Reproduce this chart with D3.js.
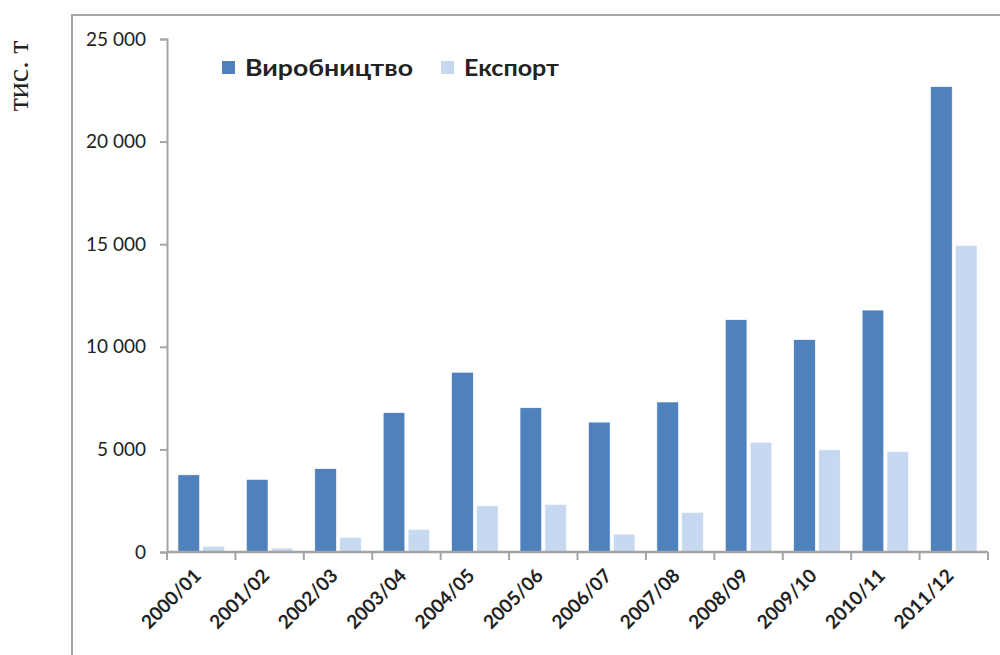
<!DOCTYPE html>
<html>
<head>
<meta charset="utf-8">
<script src="https://cdn.jsdelivr.net/npm/d3@7"></script>
<style>
  body { margin: 0; background: #fff; }
  svg { display: block; }
</style>
</head>
<body>
<div id="chart"></div>
<script>
// data (thousand tonnes)
const years = ['2000/01','2001/02','2002/03','2003/04','2004/05','2005/06',
               '2006/07','2007/08','2008/09','2009/10','2010/11','2011/12'];
const production = [3760, 3540, 4060, 6790, 8760, 7030, 6330, 7310, 11320, 10350, 11790, 22680];
const exportVals = [280, 190, 710, 1100, 2250, 2320, 870, 1930, 5350, 4980, 4900, 14940];
const seriesNames = ['Виробництво', 'Експорт'];
const seriesColors = ['#4f81bd', '#c6d9f1'];
const yTicks = [0, 5000, 10000, 15000, 20000, 25000];

const width = 1000, height = 655;
const margin = {left: 167, right: 12, top: 39, bottom: 103};

const svg = d3.select('#chart').append('svg')
  .attr('width', width)
  .attr('height', height);

// outer frame (left and top only are visible)
svg.append('path')
  .attr('d', 'M72,655 V15 H1000')
  .attr('fill', 'none')
  .attr('stroke', '#a5a5a5')
  .attr('stroke-width', 2);

const x0 = d3.scaleBand().domain(years)
  .range([margin.left, width - margin.right])
  .paddingInner(0).paddingOuter(0);
const bw = x0.bandwidth();
const x1 = d3.scaleBand().domain(seriesNames)
  .range([bw * 0.16, bw * 0.84])
  .paddingInner(0.13);
const y = d3.scaleLinear().domain([0, 25000])
  .range([height - margin.bottom, margin.top]);

const fmt = d3.formatLocale({decimal: ',', thousands: ' ', grouping: [3], currency: ['', '']}).format(',');

// y axis
const yAxis = svg.append('g')
  .attr('transform', `translate(${margin.left},0)`)
  .call(d3.axisLeft(y).tickValues(yTicks).tickFormat(fmt).tickSize(7).tickPadding(14));
yAxis.select('.domain').attr('stroke', '#a5a5a5').attr('stroke-width', 2);
yAxis.selectAll('.tick line').attr('stroke', '#a5a5a5').attr('stroke-width', 2);
yAxis.selectAll('.tick text')
  .attr('font-family', 'Lato, sans-serif')
  .attr('font-size', 19)
  .attr('fill', '#222');

// bars
const rows = years.map((yr, i) => ({year: yr, vals: [production[i], exportVals[i]]}));
const groups = svg.append('g').selectAll('g')
  .data(rows)
  .join('g')
  .attr('transform', d => `translate(${x0(d.year)},0)`);
groups.selectAll('rect')
  .data(d => d.vals.map((v, k) => ({name: seriesNames[k], value: v, color: seriesColors[k]})))
  .join('rect')
  .attr('x', d => x1(d.name))
  .attr('width', x1.bandwidth())
  .attr('y', d => y(d.value))
  .attr('height', d => y(0) - y(d.value))
  .attr('fill', d => d.color)
  .attr('stroke', '#fff')
  .attr('stroke-width', 0.6);

// x axis: ticks on category boundaries
const xAxisG = svg.append('g')
  .attr('transform', `translate(0,${y(0)})`);
xAxisG.append('line')
  .attr('x1', margin.left).attr('x2', width - margin.right)
  .attr('stroke', '#a5a5a5').attr('stroke-width', 2.5);
xAxisG.selectAll('line.tk')
  .data(years.concat(['end']))
  .join('line')
  .attr('class', 'tk')
  .attr('x1', d => d === 'end' ? x0.range()[1] : x0(d))
  .attr('x2', d => d === 'end' ? x0.range()[1] : x0(d))
  .attr('y1', 0).attr('y2', 8)
  .attr('stroke', '#a5a5a5').attr('stroke-width', 2);
xAxisG.selectAll('text')
  .data(years)
  .join('text')
  .attr('transform', d => `translate(${x0(d) + bw / 2 + 1},${25}) rotate(-45)`)
  .attr('text-anchor', 'end')
  .attr('font-family', 'Lato, sans-serif')
  .attr('font-weight', 'bold')
  .attr('font-size', 19)
  .attr('fill', '#222')
  .text(d => d);

// y label
svg.append('text')
  .attr('transform', 'translate(28,76) rotate(-90)')
  .attr('text-anchor', 'middle')
  .attr('font-family', 'Liberation Serif, serif')
  .attr('font-size', 30)
  .attr('fill', '#222')
  .text('тис. т');

// legend
const legend = svg.append('g');
const legendX = [222, 441];
const legendW = [168, 95];
seriesNames.forEach((name, k) => {
  legend.append('rect')
    .attr('x', legendX[k]).attr('y', 61)
    .attr('width', 13).attr('height', 13)
    .attr('fill', seriesColors[k]);
  legend.append('text')
    .attr('x', legendX[k] + 23).attr('y', 76)
    .attr('font-family', 'Lato, sans-serif')
    .attr('font-weight', 'bold')
    .attr('font-size', 23)
    .attr('textLength', legendW[k])
    .attr('lengthAdjust', 'spacingAndGlyphs')
    .attr('fill', '#222')
    .text(name);
});
</script>
</body>
</html>
